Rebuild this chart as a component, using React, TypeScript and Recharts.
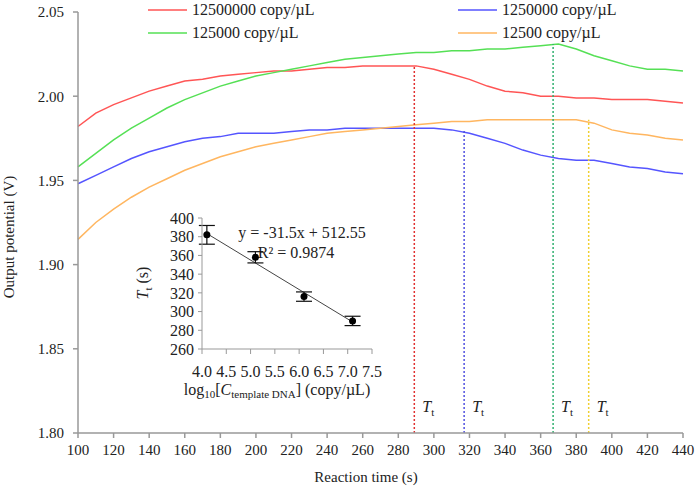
import { LineChart, Line, XAxis, YAxis, ReferenceLine, ComposedChart, Scatter, ErrorBar } from "recharts"

const FONT = "Liberation Serif, Times New Roman, serif"

// main chart: reaction time (s) vs output potential (V)
const xTicks = [100, 120, 140, 160, 180, 200, 220, 240, 260, 280, 300, 320, 340, 360, 380, 400, 420, 440]
const yTicks = [1.8, 1.85, 1.9, 1.95, 2.0, 2.05]

const seriesNames = ["12500000 copy/µL", "1250000 copy/µL", "125000 copy/µL", "12500 copy/µL"]
const seriesColors = ["#ff5555", "#5555ff", "#55e055", "#ffb660"]
const ttColors = ["#e03030", "#5050e0", "#30b070", "#f0d030"]

const times = [100, 110, 120, 130, 140, 150, 160, 170, 180, 190, 200, 210, 220, 230, 240, 250, 260, 270, 280, 290, 300, 310, 320, 330, 340, 350, 360, 370, 380, 390, 400, 410, 420, 430, 440]

const red12500000 = [1.982, 1.990, 1.995, 1.999, 2.003, 2.006, 2.009, 2.010, 2.012, 2.013, 2.014, 2.015, 2.015, 2.016, 2.017, 2.017, 2.018, 2.018, 2.018, 2.018, 2.016, 2.013, 2.010, 2.006, 2.003, 2.002, 2.000, 2.000, 1.999, 1.999, 1.998, 1.998, 1.998, 1.997, 1.996]
const blue1250000 = [1.948, 1.953, 1.958, 1.963, 1.967, 1.970, 1.973, 1.975, 1.976, 1.978, 1.978, 1.978, 1.979, 1.980, 1.980, 1.981, 1.981, 1.981, 1.981, 1.981, 1.981, 1.980, 1.978, 1.975, 1.972, 1.968, 1.965, 1.963, 1.962, 1.962, 1.960, 1.958, 1.957, 1.955, 1.954]
const green125000 = [1.958, 1.966, 1.974, 1.981, 1.987, 1.993, 1.998, 2.002, 2.006, 2.009, 2.012, 2.014, 2.016, 2.018, 2.020, 2.022, 2.023, 2.024, 2.025, 2.026, 2.026, 2.027, 2.027, 2.028, 2.028, 2.029, 2.030, 2.031, 2.028, 2.024, 2.021, 2.018, 2.016, 2.016, 2.015]
const orange12500 = [1.915, 1.925, 1.933, 1.940, 1.946, 1.951, 1.956, 1.960, 1.964, 1.967, 1.970, 1.972, 1.974, 1.976, 1.978, 1.979, 1.980, 1.981, 1.982, 1.983, 1.984, 1.985, 1.985, 1.986, 1.986, 1.986, 1.986, 1.986, 1.986, 1.984, 1.980, 1.978, 1.977, 1.975, 1.974]

const seriesValues = [red12500000, blue1250000, green125000, orange12500]

// Tt: onset time and the curve level there
const ttTimes = [289, 317, 367, 387]
const ttLevels = [2.018, 1.980, 2.031, 1.986]

// inset: Tt vs log10 concentration
const logConc = [4.1, 5.1, 6.1, 7.1]
const meanTt = [382, 358, 316, 290]
const ttErr = [10, 6, 5, 5]
const trendX = [4.1, 7.1]
const trendY = [383.4, 288.9]
const insetXTicks = [4.0, 4.5, 5.0, 5.5, 6.0, 6.5, 7.0, 7.5]
const insetYTicks = [260, 280, 300, 320, 340, 360, 380, 400]

const series = seriesValues.map((vals) => vals.map((v, i) => ({ t: times[i], v })))
const insetPoints = logConc.map((x, i) => ({ x, y: meanTt[i], err: ttErr[i] }))
const trend = trendX.map((x, i) => ({ x, y: trendY[i] }))

const legendPos = [
  { x: 148, y: 10 },
  { x: 458, y: 10 },
  { x: 148, y: 33 },
  { x: 458, y: 33 },
]

function TtLabel(props: any) {
  const vb = props.viewBox
  if (!vb) return null
  return (
    <text x={vb.x + 8} y={vb.y + vb.height - 21} fontFamily={FONT} fontSize={16} fill="#222">
      <tspan fontStyle="italic">T</tspan>
      <tspan fontSize={11} dy={4}>t</tspan>
    </text>
  )
}

// inset sits at page (120, 205); its plot area spans x 201.7-371.7, y 218-349
function Inset() {
  const axisStyle = { fontFamily: FONT, fontSize: 16, fill: "#222" }
  return (
    <div style={{ position: "absolute", left: 120, top: 205, fontFamily: FONT }}>
      <ComposedChart width={275} height={200} margin={{ top: 13, right: 23, bottom: 0, left: 0 }} style={{ fontFamily: FONT }}>
        <XAxis
          type="number"
          dataKey="x"
          domain={[4, 7.5]}
          ticks={insetXTicks}
          tickFormatter={(v: number) => v.toFixed(1)}
          tick={axisStyle}
          stroke="#999"
          tickSize={5}
          tickMargin={12}
          height={56}
          interval={0}
        />
        <YAxis
          type="number"
          domain={[260, 400]}
          ticks={insetYTicks}
          tick={axisStyle}
          stroke="#999"
          tickSize={4}
          tickMargin={4}
          width={82}
          interval={0}
        />
        <Line data={trend} dataKey="y" stroke="#444" strokeWidth={1} dot={false} isAnimationActive={false} />
        <Scatter
          data={insetPoints}
          dataKey="y"
          fill="#000"
          isAnimationActive={false}
          shape={(p: any) => <circle cx={p.cx} cy={p.cy} r={3.5} fill="#000" />}
        >
          <ErrorBar dataKey="err" direction="y" width={8} stroke="#111" strokeWidth={1.2} />
        </Scatter>
        <text x={182} y={33} textAnchor="middle" fontFamily={FONT} fontSize={16} fill="#222">
          y = -31.5x + 512.55
        </text>
        <text x={176} y={53} textAnchor="middle" fontFamily={FONT} fontSize={16} fill="#222">
          R² = 0.9874
        </text>
        <text x={157} y={190} textAnchor="middle" fontFamily={FONT} fontSize={16} fill="#222">
          log<tspan fontSize={11} dy={3}>10</tspan>
          <tspan dy={-3}>[</tspan>
          <tspan fontStyle="italic">C</tspan>
          <tspan fontSize={11} dy={3}>template DNA</tspan>
          <tspan dy={-3}>] (copy/µL)</tspan>
        </text>
        <text transform="translate(28,78) rotate(-90)" textAnchor="middle" fontFamily={FONT} fontSize={16} fill="#222">
          <tspan fontStyle="italic">T</tspan>
          <tspan fontSize={11} dy={4}>t</tspan>
          <tspan dy={-4}> (s)</tspan>
        </text>
      </ComposedChart>
    </div>
  )
}

export default function App() {
  const tickStyle = { fontFamily: FONT, fontSize: 15, fill: "#222" }
  return (
    <div style={{ position: "absolute", left: 0, top: 0, width: 700, height: 491, background: "#fff", fontFamily: FONT }}>
      <LineChart width={700} height={491} margin={{ top: 12, right: 17, bottom: 0, left: 0 }} style={{ fontFamily: FONT }}>
        <XAxis
          type="number"
          dataKey="t"
          domain={[100, 440]}
          ticks={xTicks}
          tick={tickStyle}
          stroke="#999"
          strokeWidth={1.5}
          tickSize={5}
          tickMargin={6}
          height={58}
          interval={0}
          allowDuplicatedCategory={false}
        />
        <YAxis
          type="number"
          domain={[1.8, 2.05]}
          ticks={yTicks}
          tick={tickStyle}
          tickFormatter={(v: number) => v.toFixed(2)}
          stroke="#999"
          strokeWidth={1.5}
          tickSize={5}
          tickMargin={9}
          width={78}
          interval={0}
        />
        {series.map((d, i) => (
          <Line
            key={seriesNames[i]}
            data={d}
            dataKey="v"
            name={seriesNames[i]}
            stroke={seriesColors[i]}
            strokeWidth={1.5}
            dot={false}
            isAnimationActive={false}
          />
        ))}
        {ttTimes.map((t, i) => (
          <ReferenceLine
            key={"tt" + i}
            segment={[{ x: t, y: 1.8 }, { x: t, y: ttLevels[i] }]}
            stroke={ttColors[i]}
            strokeWidth={1.5}
            strokeDasharray="2 2"
            label={<TtLabel />}
          />
        ))}
        {seriesNames.map((name, i) => (
          <g key={"lg" + i}>
            <line x1={legendPos[i].x} x2={legendPos[i].x + 39} y1={legendPos[i].y} y2={legendPos[i].y} stroke={seriesColors[i]} strokeWidth={1.5} />
            <text x={legendPos[i].x + 44} y={legendPos[i].y + 5} fontFamily={FONT} fontSize={16} fill="#222">
              {name}
            </text>
          </g>
        ))}
        <text transform="translate(14,237) rotate(-90)" textAnchor="middle" fontFamily={FONT} fontSize={15} fill="#222">
          Output potential (V)
        </text>
        <text x={366} y={482} textAnchor="middle" fontFamily={FONT} fontSize={15} fill="#222">
          Reaction time (s)
        </text>
      </LineChart>
      <Inset />
    </div>
  )
}
